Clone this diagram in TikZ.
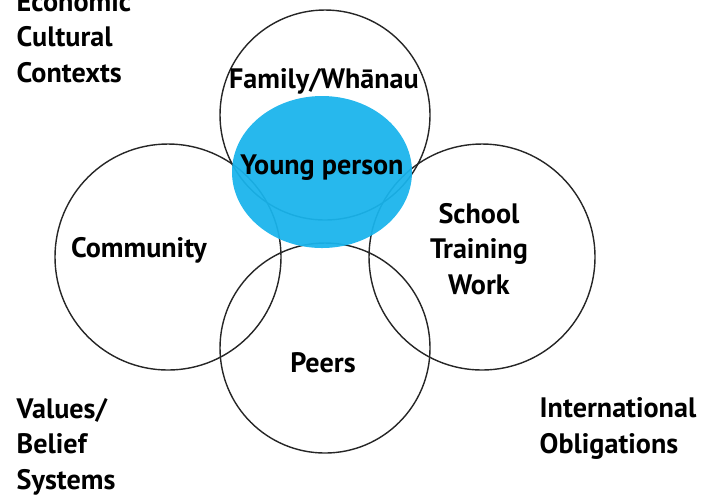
\documentclass[tikz,border=0pt]{standalone}
\usepackage{fontspec}
\setmainfont{PT Sans}
\definecolor{youngblue}{HTML}{19B4EC}
\tikzset{
  ring/.style={draw=black!85, line width=0.4pt},
  lbl/.style={font=\bfseries\fontsize{8}{9.96}\selectfont, inner sep=0pt},
}

\begin{document}
\begin{tikzpicture}[x=0.01cm, y=-0.01cm]
  \useasboundingbox (0,0) rectangle (710,496);

  % circle centres
  \coordinate (family) at (325,115);
  \coordinate (community) at (168,257);
  \coordinate (school) at (482,257);
  \coordinate (peers) at (325,348);
  \coordinate (young) at (322,172);

  \draw[ring] (family) circle [radius=105];
  \draw[ring] (community) circle [radius=113];
  \draw[ring] (school) circle [radius=113];
  \draw[ring] (peers) circle [radius=105];

  \fill[youngblue, opacity=0.94] (young) ellipse [x radius=90, y radius=76];

  % labels in the rings (base = last line)
  \node[lbl, anchor=base] (familylbl) at (324,88) {Family/Whānau};
  \node[lbl, anchor=base] (younglbl) at (322,174) {Young person};
  \node[lbl, anchor=base] (communitylbl) at (139,257) {Community};
  \node[lbl, anchor=base, align=center] (schoollbl) at (479,294) {School\\Training\\Work};
  \node[lbl, anchor=base] (peerslbl) at (323,372) {Peers};

  % outer contexts
  \node[lbl, anchor=base west, align=left] (contexts) at (16,82) {Economic\\Cultural\\Contexts};
  \node[lbl, anchor=base west, align=left] (values) at (16,489) {Values/\\Belief\\Systems};
  \node[lbl, anchor=base west, align=left] (intl) at (539,453) {International\\Obligations};
\end{tikzpicture}
\end{document}
